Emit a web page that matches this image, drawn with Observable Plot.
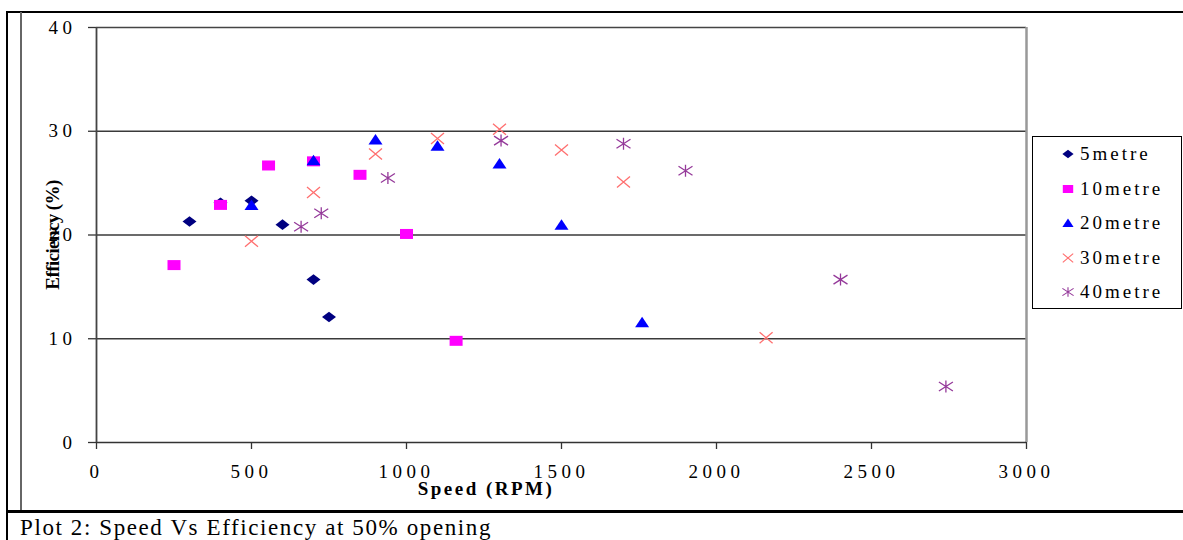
<!DOCTYPE html>
<html><head><meta charset="utf-8">
<script src="https://cdn.jsdelivr.net/npm/d3@7"></script>
<script src="https://cdn.jsdelivr.net/npm/@observablehq/plot@0.6"></script>
<style>
html,body{margin:0;padding:0;background:#fff;}
#wrap{position:relative;width:1183px;height:540px;overflow:hidden;background:#fff;font-family:"Liberation Serif","Times New Roman",serif;color:#000;}
.ln{position:absolute;background:#000;}
#chart{position:absolute;left:0;top:0;}
.axl{position:absolute;font-weight:bold;font-size:19px;white-space:nowrap;line-height:1;}
#legend{position:absolute;left:1032px;top:136px;width:148px;height:171px;border:1.5px solid #000;background:#fff;}
.row{position:absolute;left:0;height:24px;line-height:24px;font-size:19px;letter-spacing:3px;white-space:nowrap;}
.row svg{position:absolute;left:27px;top:4px;}
.row span{position:absolute;left:47px;top:0;}
#caption{position:absolute;left:20px;top:514px;font-size:23px;letter-spacing:1.6px;white-space:nowrap;line-height:1.2;}
</style></head>
<body><div id="wrap">
<div id="chart"></div>
<div class="ln" style="left:7px;top:11px;width:1176px;height:2px;"></div>
<div class="ln" style="left:6px;top:11px;width:2px;height:529px;"></div>
<div class="ln" style="left:20px;top:12px;width:2px;height:499px;background:#666;"></div>
<div class="ln" style="left:7px;top:510px;width:1176px;height:3px;"></div>
<div class="axl" id="ylab" style="left:52px;top:235px;transform:translate(-50%,-50%) rotate(-90deg);letter-spacing:-0.6px;">Efficiency (%)</div>
<div class="axl" id="xlab" style="left:486px;top:488px;transform:translate(-50%,-50%);letter-spacing:2.5px;">Speed (RPM)</div>
<div id="legend"></div>
<div id="caption">Plot 2: Speed Vs Efficiency at 50% opening</div>
</div>
<script>
// ---- data ----
const seriesNames = ["5metre", "10metre", "20metre", "30metre", "40metre"];
const speed5  = [300, 400, 500, 600, 700, 750];
const eff5    = [21.3, 23.1, 23.3, 21.0, 15.7, 12.1];
const speed10 = [250, 400, 555, 700, 850, 1000, 1160];
const eff10   = [17.1, 22.9, 26.7, 27.1, 25.8, 20.1, 9.8];
const speed20 = [500, 700, 900, 1100, 1300, 1500, 1760];
const eff20   = [22.9, 27.2, 29.2, 28.6, 26.9, 21.0, 11.6];
const speed30 = [500, 700, 900, 1100, 1300, 1500, 1700, 2160];
const eff30   = [19.4, 24.1, 27.8, 29.3, 30.2, 28.2, 25.1, 10.1];
const speed40 = [660, 725, 940, 1305, 1700, 1900, 2400, 2740];
const eff40   = [20.8, 22.1, 25.5, 29.1, 28.8, 26.2, 15.7, 5.4];
const xTicks = [0, 500, 1000, 1500, 2000, 2500, 3000];
const yTicks = [0, 10, 20, 30, 40];

// ---- symbols ----
const diamondW = {draw(c){c.moveTo(-7,0);c.lineTo(0,-5.3);c.lineTo(7,0);c.lineTo(0,5.3);c.closePath();}};
const squareW  = {draw(c){c.moveTo(-6.5,-5);c.lineTo(6.5,-5);c.lineTo(6.5,5);c.lineTo(-6.5,5);c.closePath();}};
const triW     = {draw(c){c.moveTo(0,-5.5);c.lineTo(7,5);c.lineTo(-7,5);c.closePath();}};
const timesW   = {draw(c){c.moveTo(-6.5,-5.5);c.lineTo(6.5,5.5);c.moveTo(-6.5,5.5);c.lineTo(6.5,-5.5);}};
const asterW   = {draw(c){c.moveTo(0,-6);c.lineTo(0,6);c.moveTo(-7,-4.5);c.lineTo(7,4.5);c.moveTo(-7,4.5);c.lineTo(7,-4.5);}};

const styles = [
  {sym: diamondW, fill: "#000080", stroke: "none"},
  {sym: squareW,  fill: "#ff00ff", stroke: "none"},
  {sym: triW,     fill: "#0000ff", stroke: "none"},
  {sym: timesW,   fill: "none", stroke: "#ff6f6f"},
  {sym: asterW,   fill: "none", stroke: "#953a9a"}
];
const speeds = [speed5, speed10, speed20, speed30, speed40];
const effs = [eff5, eff10, eff20, eff30, eff40];

const dotMarks = seriesNames.map((name, k) => {
  const data = speeds[k].map((s, i) => ({speed: s, eff: effs[k][i]}));
  const st = styles[k];
  return Plot.dot(data, {x: "speed", y: "eff", symbol: st.sym, fill: st.fill, stroke: st.stroke, strokeWidth: 1.3});
});

const fmt = d => String(d);
const chart = Plot.plot({
  width: 1183, height: 512,
  marginLeft: 96, marginRight: 157, marginTop: 27, marginBottom: 70,
  style: {fontFamily: '"Liberation Serif", serif', fontSize: "19px", letterSpacing: "4.5px", background: "transparent", color: "#000", overflow: "visible"},
  x: {domain: [0, 3000], ticks: xTicks, tickSize: 7, tickPadding: 15, label: null, tickFormat: fmt},
  y: {domain: [0, 40], ticks: yTicks, tickSize: 8, tickPadding: 12, label: null, tickFormat: fmt},
  marks: [
    Plot.ruleY([10, 20, 30], {stroke: "#3a3a3a", strokeWidth: 1.6}),
    Plot.ruleY([40], {stroke: "#444", strokeWidth: 1.6}),
    Plot.ruleX([3000], {stroke: "#999", strokeWidth: 2.5}),
    Plot.axisX({ticks: xTicks, tickSize: 7, tickPadding: 15, label: null, tickFormat: fmt, stroke: "#333", strokeWidth: 1.3}),
    Plot.axisY({ticks: yTicks, tickSize: 8, tickPadding: 12, label: null, tickFormat: fmt, stroke: "#333", strokeWidth: 1.3}),
    Plot.ruleY([0], {stroke: "#333", strokeWidth: 1.6}),
    Plot.ruleX([0], {stroke: "#444", strokeWidth: 1.8}),
    ...dotMarks
  ]
});
document.getElementById("chart").appendChild(chart);

// ---- legend ----
const legend = document.getElementById("legend");
seriesNames.forEach((name, k) => {
  const row = document.createElement("div");
  row.className = "row";
  row.style.top = (5 + k * 34.5) + "px";
  const st = styles[k];
  const p = d3.path();
  st.sym.draw(p);
  row.innerHTML = `<svg width="16" height="16" viewBox="-8 -8 16 16"><g transform="scale(0.8)"><path d="${p.toString()}" fill="${st.fill}" stroke="${st.stroke}" stroke-width="1.4"/></g></svg><span>${name}</span>`;
  legend.appendChild(row);
});
</script>
</body></html>
